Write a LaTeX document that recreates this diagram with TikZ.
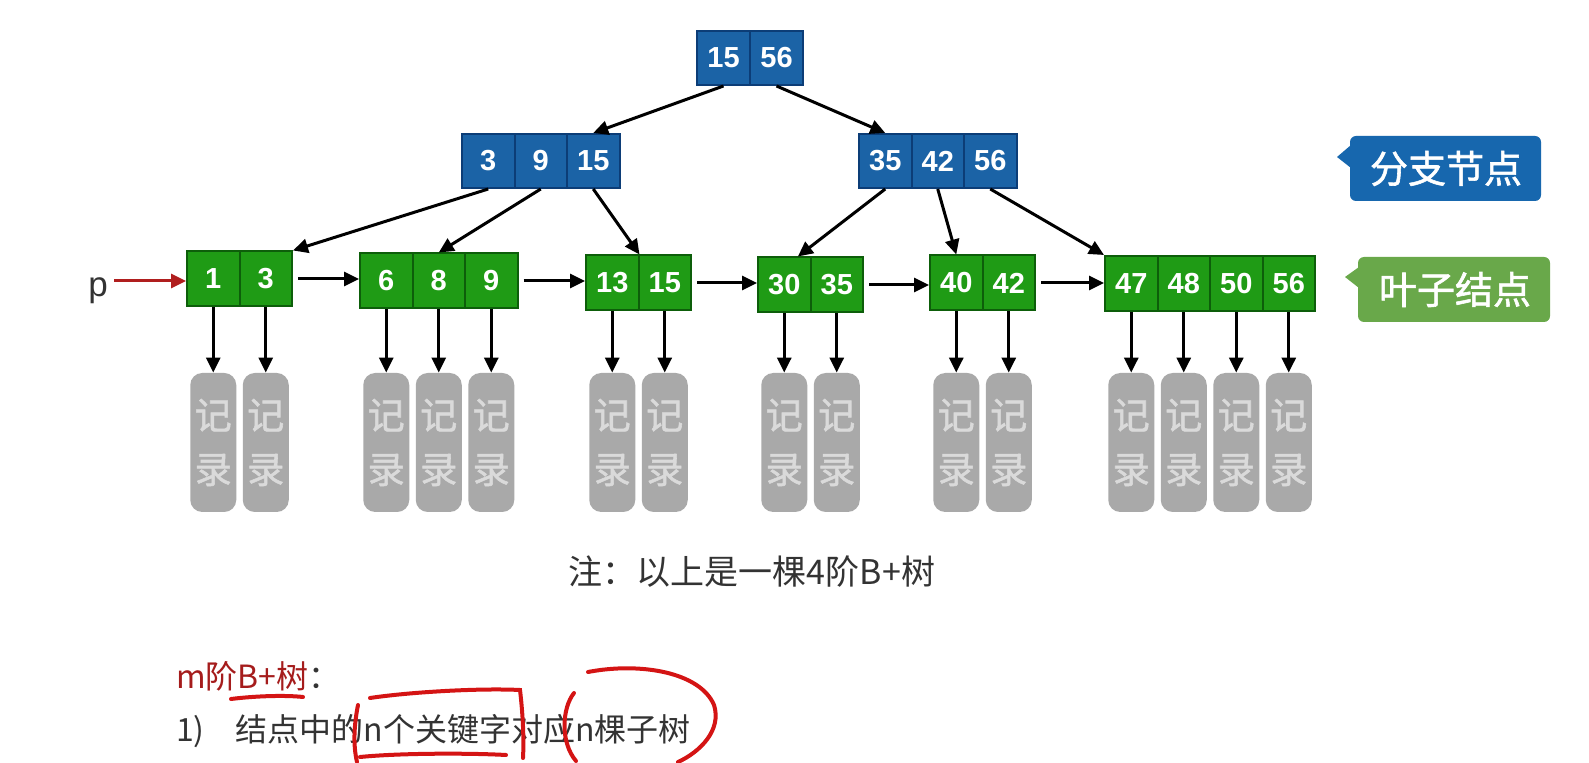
\documentclass[tikz,border=0pt]{standalone}
\usepackage{fontspec}
\setmainfont{Liberation Sans}
\newfontfamily\cjk{Noto Sans CJK SC}
\newfontfamily\cjkbold[FakeBold=1.5]{Noto Sans CJK SC}
\usetikzlibrary{arrows.meta,calc}

\definecolor{branchblue}{HTML}{1B63A6}
\definecolor{branchedge}{HTML}{0C3D77}
\definecolor{leafgreen}{HTML}{1F9B15}
\definecolor{leafedge}{HTML}{0D5E0A}
\definecolor{tagblue}{HTML}{1767AE}
\definecolor{taggreen}{HTML}{69A84A}
\definecolor{recordgray}{HTML}{A9A9A9}
\definecolor{recordtext}{HTML}{DADADA}
\definecolor{pointerred}{HTML}{B01E1E}
\definecolor{titlered}{HTML}{A51C1C}
\definecolor{inkred}{HTML}{D41414}
\definecolor{notegray}{HTML}{333333}

\tikzset{
  keycell/.style={line width=1pt, minimum width=26.25pt, minimum height=27pt,
    inner sep=0pt, text=white, font=\fontsize{14.5}{16}\selectfont\bfseries},
  branchcell/.style={keycell, fill=branchblue, draw=branchedge},
  leafcell/.style={keycell, fill=leafgreen, draw=leafedge, minimum height=27.5pt},
  record/.style={fill=recordgray, rounded corners=6pt, minimum width=23pt,
    minimum height=69.5pt, inner sep=0pt, text=recordtext, align=center,
    font=\cjkbold\fontsize{18.5}{27}\selectfont},
  link/.style={-{Triangle[length=7.5pt,width=7pt]}, line width=1.5pt},
  tag/.style={text=white, font=\cjkbold\fontsize{19}{20}\selectfont},
  ink/.style={draw=inkred, line width=2pt, line cap=round},
}

\begin{document}
\begin{tikzpicture}[x=0.5pt,y=-0.5pt]
\fill[white] (0,0) rectangle (1589,763);
\useasboundingbox (0,0) rectangle (1589,763);

% root
\node[branchcell] (r1) at (723.5,58) {15};
\node[branchcell] (r2) at (776.5,58) {56};

% branch nodes
\node[branchcell] (a1) at (488.25,161) {3};
\node[branchcell] (a2) at (540.75,161) {9};
\node[branchcell] (a3) at (593.25,161) {15};
\node[branchcell] (b1) at (885.25,161) {35};
\node[branchcell] (b2) at (937.75,161) {42};
\node[branchcell] (b3) at (990.25,161) {56};

% leaf nodes
\node[leafcell] (l1a) at (213.25,279) {1};
\node[leafcell] (l1b) at (265.75,279) {3};
\node[leafcell] (l2a) at (386.25,281) {6};
\node[leafcell] (l2b) at (438.75,281) {8};
\node[leafcell] (l2c) at (491.25,281) {9};
\node[leafcell] (l3a) at (612.25,283) {13};
\node[leafcell] (l3b) at (664.75,283) {15};
\node[leafcell] (l4a) at (784.25,285) {30};
\node[leafcell] (l4b) at (836.75,285) {35};
\node[leafcell] (l5a) at (956.25,283) {40};
\node[leafcell] (l5b) at (1008.75,283) {42};
\node[leafcell] (l6a) at (1131.25,283.5) {47};
\node[leafcell] (l6b) at (1183.75,283.5) {48};
\node[leafcell] (l6c) at (1236.25,283.5) {50};
\node[leafcell] (l6d) at (1288.75,283.5) {56};

% records
\node[record] (c1a) at (213.25,442.5) {记\\录};
\node[record] (c1b) at (265.75,442.5) {记\\录};
\node[record] (c2a) at (386.25,442.5) {记\\录};
\node[record] (c2b) at (438.75,442.5) {记\\录};
\node[record] (c2c) at (491.25,442.5) {记\\录};
\node[record] (c3a) at (612.25,442.5) {记\\录};
\node[record] (c3b) at (664.75,442.5) {记\\录};
\node[record] (c4a) at (784.25,442.5) {记\\录};
\node[record] (c4b) at (836.75,442.5) {记\\录};
\node[record] (c5a) at (956.25,442.5) {记\\录};
\node[record] (c5b) at (1008.75,442.5) {记\\录};
\node[record] (c6a) at (1131.25,442.5) {记\\录};
\node[record] (c6b) at (1183.75,442.5) {记\\录};
\node[record] (c6c) at (1236.25,442.5) {记\\录};
\node[record] (c6d) at (1288.75,442.5) {记\\录};

% tree links
\draw[link] (r1.south) -- (a3.north);
\draw[link] (r2.south) -- (b1.north);
\draw[link] (a1.south) -- (l1b.north east);
\draw[link] (a2.south) -- (l2b.north);
\draw[link] (a3.south) -- (l3a.north east);
\draw[link] (b1.south) -- ($(l4a.north)!0.5!(l4a.north east)$);
\draw[link] (b2.south) -- (l5a.north);
\draw[link] (b3.south) -- (l6a.north west);

% leaf chain
\draw[link, shorten <=2.5pt] (l1b.east) -- (l1b.east -| l2a.west);
\draw[link, shorten <=2.5pt] (l2c.east) -- (l2c.east -| l3a.west);
\draw[link, shorten <=2.5pt] (l3b.east) -- (l3b.east -| l4a.west);
\draw[link, shorten <=2.5pt] (l4b.east) -- (l4b.east -| l5a.west);
\draw[link, shorten <=2.5pt] (l5b.east) -- (l5b.east -| l6a.west);

% keys to records
\draw[link] (l1a.south) -- (c1a.north);
\draw[link] (l1b.south) -- (c1b.north);
\draw[link] (l2a.south) -- (c2a.north);
\draw[link] (l2b.south) -- (c2b.north);
\draw[link] (l2c.south) -- (c2c.north);
\draw[link] (l3a.south) -- (c3a.north);
\draw[link] (l3b.south) -- (c3b.north);
\draw[link] (l4a.south) -- (c4a.north);
\draw[link] (l4b.south) -- (c4b.north);
\draw[link] (l5a.south) -- (c5a.north);
\draw[link] (l5b.south) -- (c5b.north);
\draw[link] (l6a.south) -- (c6a.north);
\draw[link] (l6b.south) -- (c6b.north);
\draw[link] (l6c.south) -- (c6c.north);
\draw[link] (l6d.south) -- (c6d.north);

% pointer p
\node[text=notegray, font=\fontsize{17.5}{18}\selectfont] (p) at (98,291) {p};
\draw[pointerred, line width=1.5pt, -{Triangle[length=7.5pt,width=7pt]}]
  (114,281) coordinate (pstart) -- (pstart -| l1a.west);

% tags
\fill[tagblue, rounded corners=3pt] (1350,136) rectangle (1541,201);
\fill[tagblue] (1351,145) -- (1337,157) -- (1351,168) -- cycle;
\node[tag] (branchtag) at (1446,168.5) {分支节点};
\fill[taggreen, rounded corners=3pt] (1358,257) rectangle (1550,322);
\fill[taggreen] (1359,267) -- (1345,277) -- (1359,288) -- cycle;
\node[tag] (leaftag) at (1455,289.5) {叶子结点};

% note and text
\node[text=notegray, font=\cjk\fontsize{17}{18}\selectfont] (note) at (752,572)
  {注：以上是一棵4阶B+树};
\node[anchor=west, text=notegray, font=\cjk\fontsize{16}{18}\selectfont] (title) at (169,676)
  {\textcolor{titlered}{m阶B+树}：};
\node[anchor=west, text=notegray, font=\cjk\fontsize{16}{18}\selectfont] (item) at (169,731)
  {1)\hspace{15.5pt}结点中的n个关键字对应n棵子树};

% red marks
\draw[ink] (231,699) .. controls (255,696) and (285,695) .. (303,697);
\draw[ink] (358,705) .. controls (354,725) and (353,745) .. (357,762);
\draw[ink] (370,698) .. controls (410,692) and (480,688) .. (520,690)
  .. controls (523,715) and (524,740) .. (523,758);
\draw[ink] (360,757) .. controls (400,753) and (470,753) .. (506,755);
\draw[ink] (588,672) .. controls (640,662) and (700,672) .. (714,705)
  .. controls (722,730) and (700,752) .. (678,762);
\draw[ink] (574,693) .. controls (562,708) and (560,742) .. (576,761);
\end{tikzpicture}
\end{document}
